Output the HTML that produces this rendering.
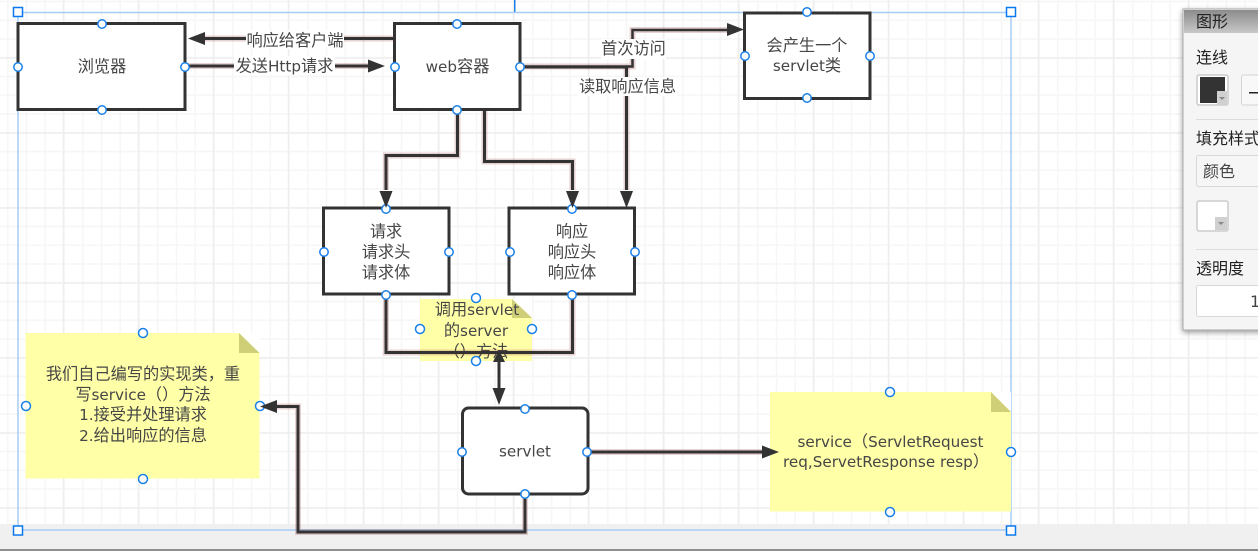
<!DOCTYPE html>
<html><head><meta charset="utf-8"><style>
html,body{margin:0;padding:0;width:1258px;height:551px;overflow:hidden;background:#fff}
svg{display:block}
text{font-family:"DejaVu Sans","Noto Sans CJK SC",sans-serif;font-size:16.2px;fill:#464646;text-anchor:middle}
.l{font-size:15.2px}
.t{font-family:"Noto Sans CJK TC",sans-serif}
.b{fill:#fff;stroke:#333;stroke-width:3}
.g{fill:none;stroke:rgba(140,50,50,.22);stroke-width:6}
.c{fill:none;stroke:#333;stroke-width:3}
.a{fill:#333}
.h{fill:#fff;stroke:#1a80e8;stroke-width:1.5}
.lb{fill:#fff}
.p{font-size:16px;fill:#222;text-anchor:start}
</style></head><body>
<svg width="1258" height="551" viewBox="0 0 1258 551" xmlns="http://www.w3.org/2000/svg">
<defs>
<pattern id="gm" x="6.75" y="0.5" width="18.75" height="18.75" patternUnits="userSpaceOnUse">
<path d="M1 0V18.75M0 1H18.75" stroke="#f6f6f6" stroke-width="1.5" fill="none"/>
</pattern>
<pattern id="gM" x="62.5" y="132" width="75" height="75" patternUnits="userSpaceOnUse">
<path d="M1 0V75M0 1H75" stroke="#eeeeee" stroke-width="1.5" fill="none"/>
</pattern>
<filter id="sh" x="-20%" y="-10%" width="140%" height="120%"><feDropShadow dx="0" dy="2" stdDeviation="3" flood-color="#000" flood-opacity=".4"/></filter>
<linearGradient id="hd" x1="0" y1="0" x2="0" y2="1"><stop offset="0" stop-color="#8c8c8c"/><stop offset="1" stop-color="#c8c8c8"/></linearGradient>
</defs>
<rect width="1258" height="524" fill="#fff"/>
<rect width="1258" height="524" fill="url(#gm)"/>
<rect width="1258" height="524" fill="url(#gM)"/>
<rect y="524" width="1258" height="25" fill="#f0f0f0"/>
<rect y="549" width="1258" height="2" fill="#8f8f8f"/>
<rect x="514" y="0" width="1.5" height="12" fill="#1a80e8"/>

<!-- selection -->
<rect x="18" y="12.5" width="993" height="517.5" fill="none" stroke="#a5cdf5" stroke-width="1.5"/>

<!-- notes -->
<rect x="25.5" y="333" width="234" height="145.5" fill="#ffffa8"/>
<path d="M239 333L259.5 353V333Z" fill="#fff"/>
<path d="M239 333L259.5 353H239Z" fill="#cfcf78"/>
<rect x="770" y="392" width="241" height="119.5" fill="#ffffa8"/>
<path d="M991 392L1011 412V392Z" fill="#fff"/>
<path d="M991 392L1011 412H991Z" fill="#cfcf78"/>
<rect x="420" y="299" width="112" height="62" fill="#ffffa8"/>
<path d="M512 299L532 318V299Z" fill="#fff"/>
<path d="M512 299L532 318H512Z" fill="#cfcf78"/>

<!-- note text -->
<text x="143" y="379.5">我们自己编写的实现类，重</text>
<text x="143" y="400">写<tspan class="l">service</tspan><tspan class="t">（）</tspan>方法</text>
<text x="143" y="420"><tspan class="l">1.</tspan>接受并处理请求</text>
<text x="143" y="441"><tspan class="l">2.</tspan>给出响应的信息</text>
<text x="890.500" y="447"><tspan class="l">service</tspan><tspan class="t">（</tspan><tspan class="l">ServletRequest</tspan></text>
<text x="886" y="467"><tspan class="l">req,ServetResponse resp</tspan><tspan class="t">）</tspan></text>
<text x="477" y="315">调用<tspan class="l">servlet</tspan></text>
<text x="476" y="336">的<tspan class="l">server</tspan></text>
<text x="476" y="357"><tspan class="t">（）</tspan>方法</text>

<!-- boxes -->
<rect class="b" x="18" y="23.5" width="167" height="86"/>
<rect class="b" x="394.5" y="23.5" width="125.5" height="86"/>
<rect class="b" x="744.5" y="13" width="125.5" height="85.5"/>
<rect class="b" x="323.5" y="208" width="125.5" height="86"/>
<rect class="b" x="509" y="208" width="125.5" height="86"/>
<rect class="b" x="462.5" y="408" width="125.5" height="86" rx="6"/>

<!-- connector glow -->
<g class="g">
<path d="M394 38.5H205"/><path d="M186 66H368"/>
<path d="M520 66.5H632.5V30H728"/><path d="M626.5 67V190"/>
<path d="M457.5 110V155.5H386V190"/><path d="M484.5 111V161.5H572.5V190"/>
<path d="M386 295V352.5H572.5V295"/>
<path d="M588 452H762"/><path d="M525 494V532H298V406.5H276"/>
</g>
<!-- connectors -->
<g class="c">
<path d="M394 38.5H205"/><path d="M186 66H368"/>
<path d="M520 66.5H632.5V30H728" stroke-width="2.5"/><path d="M520 67H626.5V190"/>
<path d="M457.5 110V155.5H386V190"/><path d="M484.5 111V161.5H572.5V190"/>
<path d="M386 295V352.5H572.5V295"/><path d="M499 352V388"/>
<path d="M588 452H762"/><path d="M525 494V532H298V406.5H276"/>
</g>

<!-- connector labels -->
<rect class="lb" x="246" y="30" width="98" height="19"/>
<rect class="lb" x="234" y="56" width="101" height="19"/>
<rect class="lb" x="601" y="39" width="65" height="20"/>
<rect class="lb" x="578" y="77" width="99" height="19"/>
<text x="295" y="46">响应给客户端</text>
<text x="284.500" y="71.500">发送<tspan class="l">Http</tspan>请求</text>
<text x="633.500" y="54">首次访问</text>
<text x="627.500" y="92">读取响应信息</text>

<!-- box text -->
<text x="102" y="72">浏览器</text>
<text x="457.500" y="72"><tspan class="l">web</tspan>容器</text>
<text x="807" y="51">会产生一个</text>
<text x="807" y="71"><tspan class="l">servlet</tspan>类</text>
<text x="386" y="237">请求</text>
<text x="386" y="257.500">请求头</text>
<text x="386" y="278">请求体</text>
<text x="572" y="237">响应</text>
<text x="572" y="257.500">响应头</text>
<text x="572" y="278">响应体</text>
<text x="525" y="456.500"><tspan class="l">servlet</tspan></text>

<!-- anchors -->
<g class="h">
<circle cx="102" cy="24" r="4.200"/><circle cx="18" cy="67" r="4.200"/><circle cx="185" cy="67" r="4.200"/><circle cx="102" cy="110" r="4.200"/>
<circle cx="457" cy="24" r="4.200"/><circle cx="395" cy="67" r="4.200"/><circle cx="520" cy="67" r="4.200"/><circle cx="457" cy="110" r="4.200"/>
<circle cx="807" cy="12" r="4.200"/><circle cx="745" cy="56" r="4.200"/><circle cx="870" cy="56" r="4.200"/><circle cx="807" cy="98" r="4.200"/>
<circle cx="386" cy="209" r="4.200"/><circle cx="324" cy="252" r="4.200"/><circle cx="449" cy="252" r="4.200"/><circle cx="386" cy="295" r="4.200"/>
<circle cx="572" cy="209" r="4.200"/><circle cx="510" cy="252" r="4.200"/><circle cx="635" cy="252" r="4.200"/><circle cx="572" cy="295" r="4.200"/>
<circle cx="476" cy="298" r="4.500"/><circle cx="420" cy="329" r="4.500"/><circle cx="532" cy="329" r="4.500"/><circle cx="476" cy="361" r="4.500"/>
<circle cx="525" cy="409" r="4.200"/><circle cx="462" cy="452" r="4.200"/><circle cx="587" cy="452" r="4.200"/><circle cx="525" cy="494" r="4.200"/>
<circle cx="143" cy="333" r="4.500"/><circle cx="26" cy="406" r="4.500"/><circle cx="260" cy="406" r="4.500"/><circle cx="143" cy="479" r="4.500"/>
<circle cx="890" cy="392" r="4.500"/><circle cx="1011" cy="452" r="4.500"/><circle cx="890" cy="512" r="4.500"/>
</g>
<g class="a">
<path d="M188 38.500L205 32V45Z"/>
<path d="M385 66L368 59.500V72.500Z"/>
<path d="M744 29.500L727 23V36Z"/>
<path d="M386 208L379.500 191H392.500Z"/>
<path d="M572.500 208L566 191H579Z"/>
<path d="M626.500 208L620 191H633Z"/>
<path d="M499 405L492.500 388H505.500Z"/>
<path d="M499 350L493 362H505Z"/>
<path d="M779 452L762 445.500V458.500Z"/>
<path d="M260 406.500L277 400V413Z"/>
</g>
<g fill="#fff" stroke="#0a78ee" stroke-width="1.500">
<rect x="13.500" y="7.500" width="9" height="9"/><rect x="1006.500" y="7.500" width="9" height="9"/>
<rect x="13.500" y="526" width="9" height="9"/><rect x="1006.500" y="526" width="9" height="9"/>
</g>

<!-- panel -->
<g>
<rect x="1183" y="9" width="80" height="321" fill="#f5f5f5" stroke="#aaa" filter="url(#sh)"/>
<rect x="1184" y="10" width="74" height="23" fill="url(#hd)"/>
<text class="p" x="1196" y="27">图形</text>
<text class="p" x="1196" y="63">连线</text>
<rect x="1197" y="75" width="31" height="30" rx="2" fill="#fff" stroke="#ccc" stroke-width="1.500"/>
<rect x="1200" y="77" width="25" height="26" fill="#333"/>
<rect x="1217" y="91" width="10" height="14" fill="#d0d0d0"/>
<path d="M1219 97h6l-3 3z" fill="#888"/>
<rect x="1241.500" y="75" width="30" height="30" rx="2" fill="#f8f8f8" stroke="#d4d4d4"/>
<rect x="1249" y="92" width="9" height="1.500" fill="#222"/>
<rect x="1196" y="119" width="62" height="1" fill="#ddd"/>
<text class="p" x="1196" y="144">填充样式</text>
<rect x="1196.500" y="155.500" width="70" height="31" rx="2" fill="#f6f6f6" stroke="#d8d8d8"/>
<text class="p" x="1203" y="177" style="fill:#444">颜色</text>
<rect x="1197" y="201" width="31" height="30" rx="2" fill="#fff" stroke="#ccc" stroke-width="1.500"/>
<rect x="1215" y="217" width="12" height="13" fill="#d0d0d0"/>
<path d="M1218 222h6l-3 3z" fill="#888"/>
<rect x="1196" y="249" width="62" height="1" fill="#ddd"/>
<text class="p" x="1196" y="274">透明度</text>
<rect x="1196.500" y="285.500" width="70" height="31" rx="2" fill="#fff" stroke="#d8d8d8"/>
<text class="p" x="1250" y="307" style="fill:#444">1</text>
</g>
</svg>
</body></html>
